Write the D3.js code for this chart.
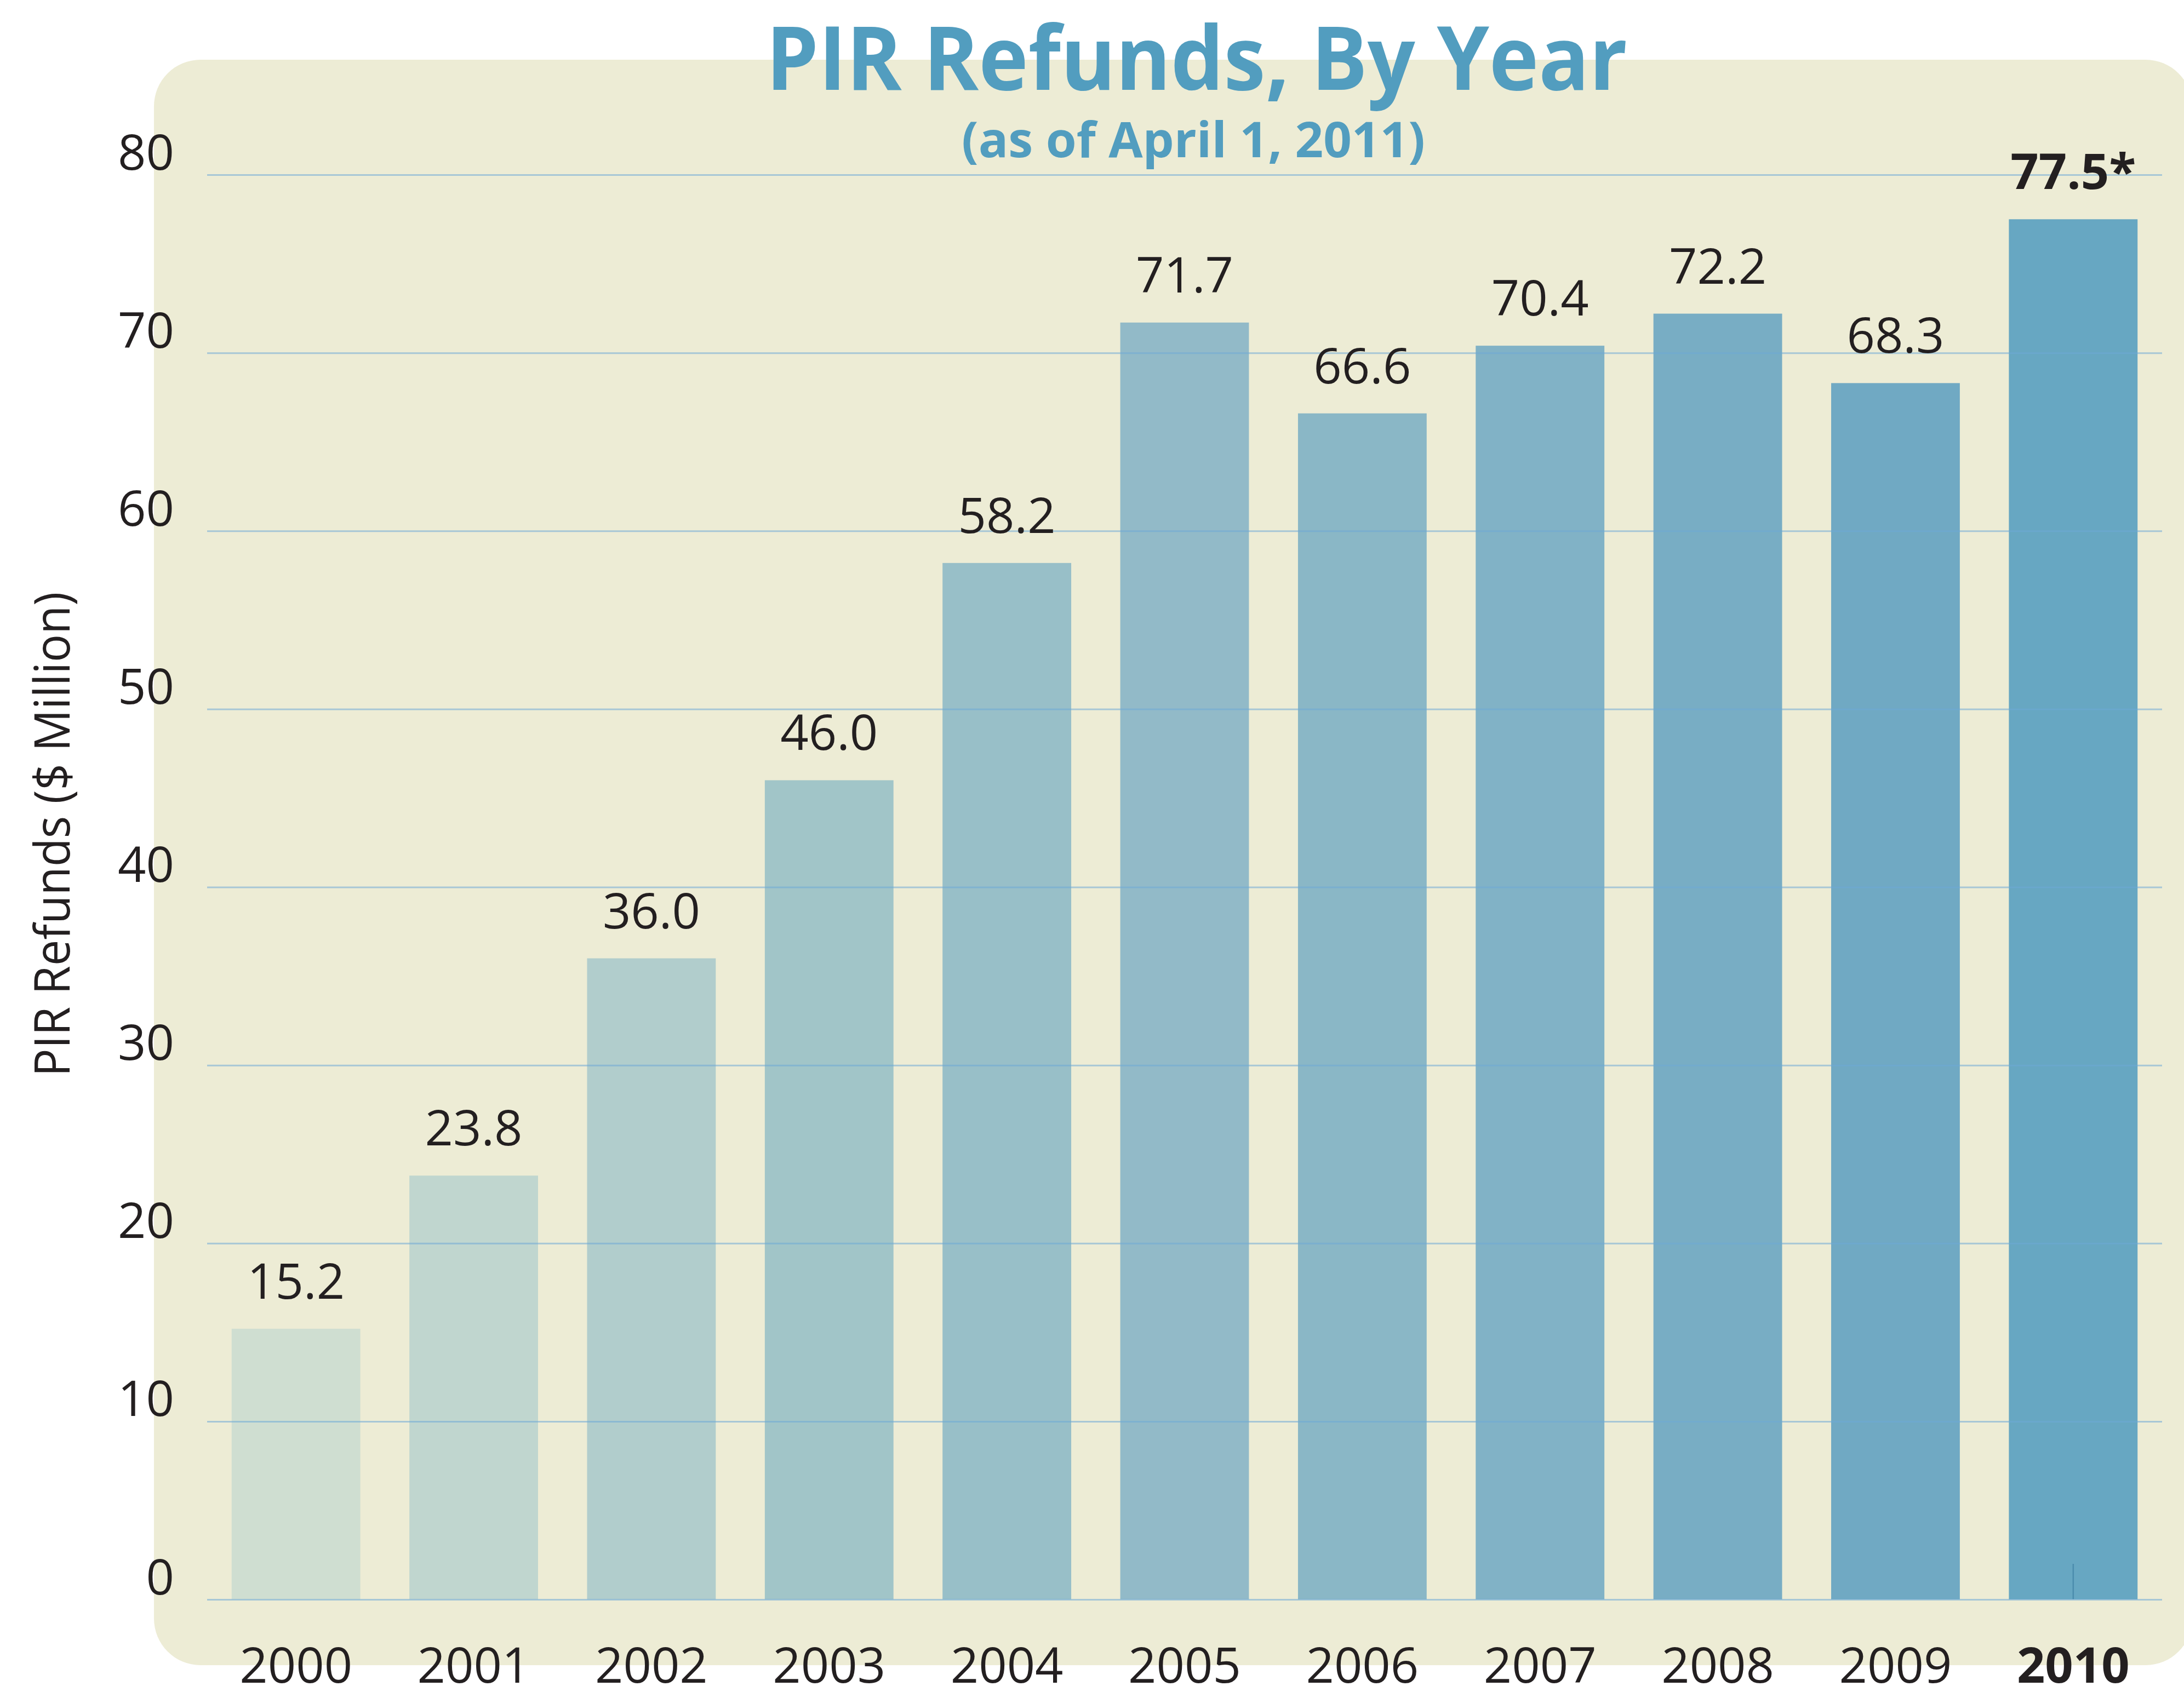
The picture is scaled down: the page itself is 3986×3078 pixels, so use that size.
<!DOCTYPE html>
<html>
<head>
<meta charset="utf-8">
<script src="https://cdn.jsdelivr.net/npm/d3@7"></script>
<style>
  body { margin: 0; background: #fff; }
  text { font-family: "Open Sans", "Noto Sans", sans-serif; }
</style>
</head>
<body>
<script>
// data
const years = ['2000', '2001', '2002', '2003', '2004', '2005', '2006', '2007', '2008', '2009', '2010']
const refunds = [15.2, 23.8, 36.0, 46.0, 58.2, 71.7, 66.6, 70.4, 72.2, 68.3, 77.5]
const valueLabels = ['15.2', '23.8', '36.0', '46.0', '58.2', '71.7', '66.6', '70.4', '72.2', '68.3', '77.5*']
const yTicks = [0, 10, 20, 30, 40, 50, 60, 70, 80]
const highlightYear = '2010'

// bar fills go from pale green-grey to steel blue
const barColors = ['#cfded1', '#c0d6cf', '#b1cdcc', '#a1c5c8', '#98bfc8', '#92bac8',
                   '#8ab7c6', '#81b2c6', '#78adc4', '#70a9c3', '#67a7c2']

const width = 3986, height = 3078
const textColor = '#231f20'
const titleColor = '#529dbf'

const svg = d3.select('body').append('svg')
    .attr('width', width)
    .attr('height', height)

// beige rounded panel behind the plot
svg.append('rect')
  .attr('x', 281)
  .attr('y', 109)
  .attr('width', 3720)
  .attr('height', 2931)
  .attr('rx', 85)
  .attr('fill', '#edecd5')

const x = d3.scaleBand()
  .domain(years)
  .range([378, 3946])
  .paddingInner(0.276)
  .paddingOuter(0.138)

const y = d3.scaleLinear()
  .domain([0, 80])
  .range([2920, 319])

const data = years.map((yr, i) => ({year: yr, value: refunds[i], label: valueLabels[i], color: barColors[i]}))

svg.append('g').attr('class', 'bars')
  .selectAll('rect')
  .data(data)
  .join('rect')
    .attr('x', d => x(d.year))
    .attr('y', d => y(d.value))
    .attr('width', x.bandwidth())
    .attr('height', d => y(0) - y(d.value))
    .attr('fill', d => d.color)

// small mark inside the 2010 bar
svg.append('line')
  .attr('x1', x(highlightYear) + x.bandwidth() / 2)
  .attr('x2', x(highlightYear) + x.bandwidth() / 2)
  .attr('y1', y(0))
  .attr('y2', y(0) - 65)
  .attr('stroke', '#4b8cad')
  .attr('stroke-width', 2.5)

// gridlines + y labels, drawn over the bars
const yAxis = g => g
  .attr('transform', `translate(${x.range()[0]},0)`)
  .call(d3.axisLeft(y).tickValues(yTicks).tickSize(-(x.range()[1] - x.range()[0])))
  .call(g => g.select('.domain').remove())
  .call(g => g.selectAll('.tick line')
    .attr('stroke', 'rgb(110,170,215)')
    .attr('stroke-opacity', 0.55)
    .attr('stroke-width', 3))
  .call(g => g.selectAll('.tick text')
    .attr('x', -60)
    .attr('y', -10)
    .attr('dy', null)
    .attr('fill', textColor)
    .attr('font-size', 90)
    .attr('font-family', '"Open Sans", sans-serif'))

svg.append('g').call(yAxis)

const xAxis = g => g
  .attr('transform', `translate(0,${y(0)})`)
  .call(d3.axisBottom(x).tickSize(0))
  .call(g => g.select('.domain').remove())
  .call(g => g.selectAll('.tick text')
    .attr('y', 152)
    .attr('dy', null)
    .attr('fill', textColor)
    .attr('font-size', 90)
    .attr('font-family', '"Open Sans", sans-serif')
    .attr('font-weight', d => d == highlightYear ? 'bold' : 'normal'))

svg.append('g').call(xAxis)

// value labels above bars
svg.append('g').attr('class', 'values')
  .selectAll('text')
  .data(data)
  .join('text')
    .attr('x', d => x(d.year) + x.bandwidth() / 2)
    .attr('y', d => y(d.value) - 55)
    .attr('text-anchor', 'middle')
    .attr('font-size', 90)
    .attr('fill', textColor)
    .attr('font-weight', d => d.year == highlightYear ? 'bold' : 'normal')
    .text(d => d.label)

// titles
svg.append('text')
  .attr('x', 2184)
  .attr('y', 164)
  .attr('text-anchor', 'middle')
  .attr('font-size', 161)
  .attr('font-weight', 'bold')
  .attr('fill', titleColor)
  .attr('textLength', 1572)
  .attr('lengthAdjust', 'spacingAndGlyphs')
  .text('PIR Refunds, By Year')

svg.append('text')
  .attr('x', 2178)
  .attr('y', 287)
  .attr('text-anchor', 'middle')
  .attr('font-size', 89)
  .attr('font-weight', 'bold')
  .attr('fill', titleColor)
  .attr('textLength', 846)
  .attr('lengthAdjust', 'spacingAndGlyphs')
  .text('(as of April 1, 2011)')

svg.append('text')
  .attr('transform', 'translate(127,1523) rotate(-90)')
  .attr('text-anchor', 'middle')
  .attr('font-size', 90)
  .attr('fill', textColor)
  .attr('textLength', 885)
  .attr('lengthAdjust', 'spacingAndGlyphs')
  .text('PIR Refunds ($ Million)')
</script>
</body>
</html>
